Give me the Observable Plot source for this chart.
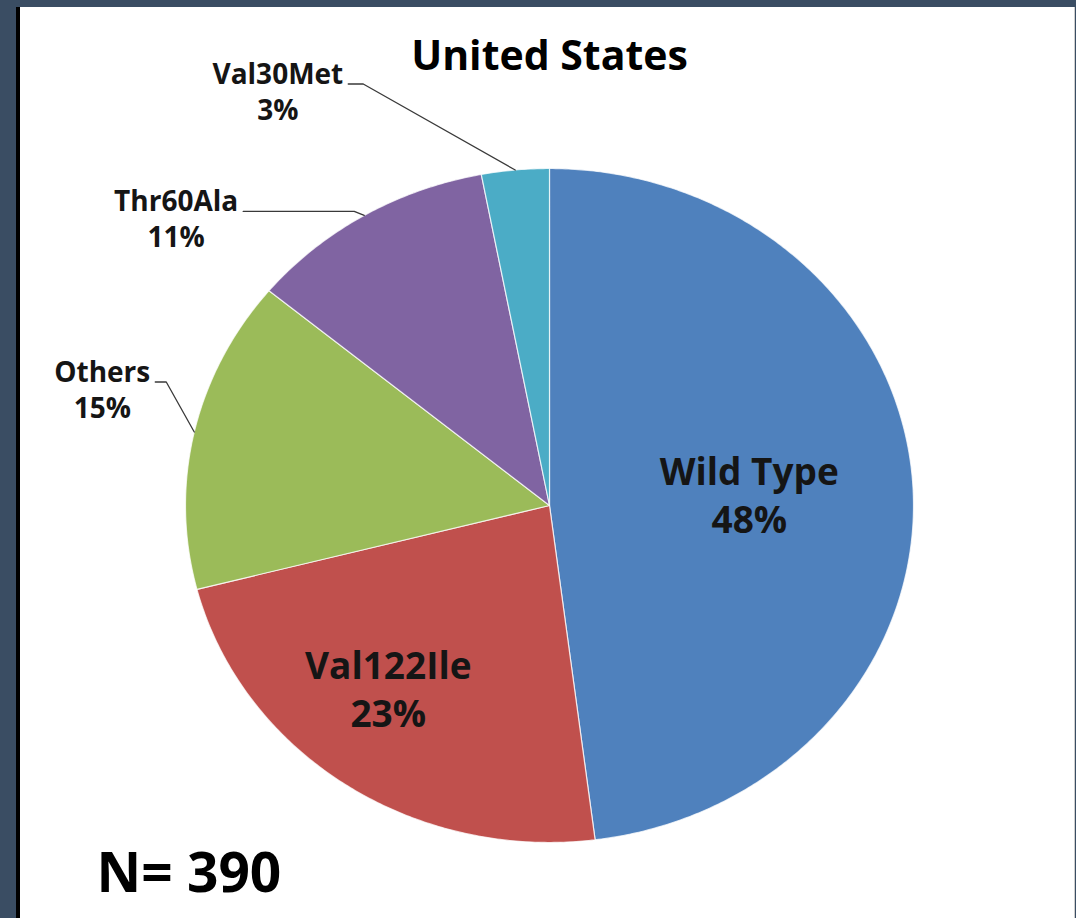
<!DOCTYPE html>
<html>
<head>
<meta charset="utf-8">
<script src="https://cdn.jsdelivr.net/npm/d3@7"></script>
<script src="https://cdn.jsdelivr.net/npm/@observablehq/plot@0.6"></script>
<style>
  html, body { margin: 0; padding: 0; }
  body { width: 1076px; height: 918px; background: #3a4d63; position: relative; overflow: hidden; font-family: "Open Sans", sans-serif; }
  #panel { position: absolute; left: 16px; top: 7px; width: 1059px; height: 911px; background: #fff; border-left: 4px solid #000; border-right: 1px solid #cfcfcf; box-sizing: border-box; }
  #chart { position: absolute; left: 0; top: 0; }
</style>
</head>
<body>
<div id="panel"></div>
<div id="chart"></div>
<script>
// Genotype shares (percent), clockwise from 12 o'clock
const genotypes = ["Wild Type", "Val122Ile", "Others", "Thr60Ala", "Val30Met"];
const percents = [48, 23, 15, 11, 3];
const sliceColors = ["#4f81bd", "#c0504d", "#9bbb59", "#8064a2", "#4bacc6"];
const chartTitle = "United States";
const sampleSize = 390;

// Pie geometry (pixels): centre and the two radii of the slightly wide ellipse
const W = 1076, H = 918;
const CX = 549, CY = 505, RX = 364, RY = 337;
const labelFont = "'Open Sans', sans-serif";

const rows = genotypes.map((name, i) => ({name, pct: percents[i]}));
const arcs = d3.pie().sort(null).value(d => d.pct)(rows);
const mid = a => (a.startAngle + a.endAngle) / 2;

// Each slice as a closed polygon in unit coordinates (y up)
const outline = arcs.flatMap(a => {
  const pts = [{name: a.data.name, x: 0, y: 0}];
  const n = Math.max(2, Math.ceil((a.endAngle - a.startAngle) / (Math.PI / 360)));
  for (let k = 0; k <= n; k++) {
    const t = a.startAngle + (a.endAngle - a.startAngle) * k / n;
    pts.push({name: a.data.name, x: Math.sin(t), y: Math.cos(t)});
  }
  return pts;
});

// Labels drawn inside their slices: radial position plus a small pixel nudge
const insideLayout = {
  "Wild Type": {r: 0.55, dx: 0, dy: 0},
  "Val122Ile": {r: 0.70, dx: -18, dy: -13}
};
const insideLabels = arcs.filter(a => insideLayout[a.data.name]).map(a => {
  const o = insideLayout[a.data.name];
  return {
    text: `${a.data.name}\n${a.data.pct}%`,
    x: o.r * Math.sin(mid(a)) + o.dx / RX,
    y: o.r * Math.cos(mid(a)) - o.dy / RY
  };
});

// Callout labels: elbow offset (px) from the slice rim, then a horizontal tail
const calloutLayout = {
  "Val30Met": {elbow: [-152, -86], tail: 15},
  "Thr60Ala": {elbow: [-10, -4], tail: 111},
  "Others":   {elbow: [-28, -50], tail: 11}
};
const calloutSize = 28, gap = 5, pctLead = 36;
const ctx = document.createElement("canvas").getContext("2d");
ctx.font = `700 ${calloutSize}px ${labelFont}`;

const leaders = [], calloutNames = [], calloutPcts = [];
for (const a of arcs) {
  const o = calloutLayout[a.data.name];
  if (!o) continue;
  const rim = {x: Math.sin(mid(a)), y: Math.cos(mid(a))};
  const elbow = {x: rim.x + o.elbow[0] / RX, y: rim.y - o.elbow[1] / RY};
  const end = {x: elbow.x - o.tail / RX, y: elbow.y};
  leaders.push({name: a.data.name, ...end}, {name: a.data.name, ...elbow}, {name: a.data.name, ...rim});
  const w = ctx.measureText(a.data.name).width;
  calloutNames.push({text: a.data.name, x: end.x - gap / RX, y: end.y});
  calloutPcts.push({text: `${a.data.pct}%`, x: end.x - (gap + w / 2) / RX, y: end.y - pctLead / RY});
}

const textColor = "#151515";

const chart = Plot.plot({
  width: W,
  height: H,
  margin: 0,
  style: {background: "transparent", fontFamily: labelFont},
  x: {domain: [-1, 1], range: [CX - RX, CX + RX], axis: null},
  y: {domain: [-1, 1], range: [CY + RY, CY - RY], axis: null},
  color: {domain: genotypes, range: sliceColors},
  marks: [
    Plot.line(outline, {
      x: "x", y: "y", z: "name", fill: "name",
      stroke: "#ffffff", strokeWidth: 1.2, strokeOpacity: 0.75,
      curve: "linear-closed"
    }),
    Plot.line(leaders, {x: "x", y: "y", z: "name", stroke: "#3a3a3a", strokeWidth: 1.3}),
    Plot.text(insideLabels, {
      x: "x", y: "y", text: "text",
      fontSize: 37, fontWeight: 700, lineHeight: 1.3,
      lineAnchor: "middle", textAnchor: "middle", fill: textColor
    }),
    Plot.text(calloutNames, {
      x: "x", y: "y", text: "text",
      fontSize: calloutSize, fontWeight: 700,
      lineAnchor: "bottom", textAnchor: "end", fill: textColor
    }),
    Plot.text(calloutPcts, {
      x: "x", y: "y", text: "text",
      fontSize: calloutSize, fontWeight: 700,
      lineAnchor: "bottom", textAnchor: "middle", fill: textColor
    }),
    Plot.text([chartTitle], {
      x: 0, frameAnchor: "top", dy: 69, text: d => d,
      fontSize: 41, fontWeight: 700, lineAnchor: "bottom", textAnchor: "middle", fill: "#000"
    }),
    Plot.text([`N= ${sampleSize}`], {
      frameAnchor: "bottom-left", dx: 96, dy: -27, text: d => d,
      fontSize: 55, fontWeight: 700, lineAnchor: "bottom", textAnchor: "start", fill: "#000"
    })
  ]
});

document.getElementById("chart").appendChild(chart);
</script>
</body>
</html>
